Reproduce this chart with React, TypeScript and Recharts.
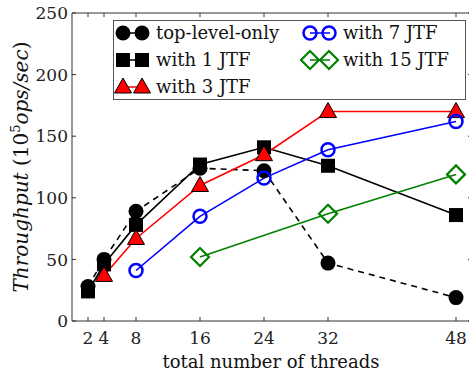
import { LineChart, Line, XAxis, YAxis, ReferenceLine } from 'recharts';

const threads = [2, 4, 8, 16, 24, 32, 48];
const topLevelOnly = [28, 50, 89, 124, 122, 47, 19];
const with1Jtf = [24, 46, 78, 127, 141, 126, 86];
const with3Jtf = [null, 37, 67, 110, 135, 170, 170];
const with7Jtf = [null, null, 41, 85, 116, 139, 162];
const with15Jtf = [null, null, null, 52, null, 87, 119];
const yTicks = [0, 50, 100, 150, 200, 250];

const data = threads.map((t, i) => ({
  t,
  top: topLevelOnly[i],
  j1: with1Jtf[i],
  j3: with3Jtf[i],
  j7: with7Jtf[i],
  j15: with15Jtf[i],
}));

// plot box (pixels)
const PL = 72;
const PR = 472;
const PT = 13;
const PB = 321;
const AXIS = '#333';
const FONT = '"DejaVu Serif", serif';

const BLUE = '#0000ff';
const GREEN = '#008000';
const RED = '#ff0000';

type Kind = 'circle' | 'square' | 'triangle' | 'ocircle' | 'diamond';

function Marker({ kind, cx, cy }: { kind: Kind; cx: number; cy: number }) {
  switch (kind) {
    case 'circle':
      return <circle cx={cx} cy={cy} r={7.5} fill="#000" />;
    case 'square':
      return <rect x={cx - 7} y={cy - 7} width={14} height={14} fill="#000" />;
    case 'triangle':
      return (
        <polygon
          points={`${cx},${cy - 9} ${cx - 8.5},${cy + 6} ${cx + 8.5},${cy + 6}`}
          fill={RED}
          stroke="#000"
          strokeWidth={1}
        />
      );
    case 'ocircle':
      return <circle cx={cx} cy={cy} r={6.5} fill="none" stroke={BLUE} strokeWidth={2.5} />;
    case 'diamond':
      return (
        <polygon
          points={`${cx},${cy - 9} ${cx + 9},${cy} ${cx},${cy + 9} ${cx - 9},${cy}`}
          fill="none"
          stroke={GREEN}
          strokeWidth={2.2}
        />
      );
  }
}

const dotOf = (kind: Kind) => (props: any) => {
  const { cx, cy, value, index } = props;
  if (value == null || cx == null || cy == null) return <g key={index} />;
  return (
    <g key={index}>
      <Marker kind={kind} cx={cx} cy={cy} />
    </g>
  );
};

const XTick = (props: any) => {
  const { x, payload } = props;
  return (
    <g>
      <line x1={x} x2={x} y1={PB} y2={PB - 4} stroke={AXIS} />
      <line x1={x} x2={x} y1={PT} y2={PT + 4} stroke={AXIS} />
      <text x={x} y={344} textAnchor="middle" fontFamily={FONT} fontSize={17} fill="#222">
        {payload.value}
      </text>
    </g>
  );
};

const YTick = (props: any) => {
  const { y, payload } = props;
  return (
    <g>
      <line x1={PL} x2={PL + 4} y1={y} y2={y} stroke={AXIS} />
      <line x1={PR} x2={PR - 4} y1={y} y2={y} stroke={AXIS} />
      <text x={68} y={y} dy="0.36em" textAnchor="end" fontFamily={FONT} fontSize={17} fill="#222">
        {payload.value}
      </text>
    </g>
  );
};

const legendItems: { label: string; kind: Kind; color: string; x: number; y: number }[] = [
  { label: 'top-level-only', kind: 'circle', color: '#000', x: 115, y: 33 },
  { label: 'with 1 JTF', kind: 'square', color: '#000', x: 115, y: 60 },
  { label: 'with 3 JTF', kind: 'triangle', color: RED, x: 115, y: 87 },
  { label: 'with 7 JTF', kind: 'ocircle', color: BLUE, x: 302, y: 33 },
  { label: 'with 15 JTF', kind: 'diamond', color: GREEN, x: 302, y: 60 },
];

function Overlay() {
  return (
    <svg
      width={469}
      height={377}
      style={{ position: 'absolute', left: 0, top: 0, pointerEvents: 'none' }}
    >
      <rect x={113.5} y={20.5} width={352} height={79} fill="#fff" stroke="#555" />
      {legendItems.map((it) => (
        <g key={it.label}>
          <line x1={it.x + 8} x2={it.x + 28} y1={it.y} y2={it.y} stroke={it.color} strokeWidth={1.5} />
          <Marker kind={it.kind} cx={it.x + 8} cy={it.y} />
          <Marker kind={it.kind} cx={it.x + 27} cy={it.y} />
          <text x={it.x + 41} y={it.y} dy="0.35em" fontFamily={FONT} fontSize={18} fill="#111">
            {it.label}
          </text>
        </g>
      ))}
      <text
        transform="translate(28,167) rotate(-90)"
        textAnchor="middle"
        fontFamily={FONT}
        fontSize={20}
        fill="#111"
      >
        <tspan fontStyle="italic">Throughput</tspan>
        <tspan> (10</tspan>
        <tspan fontSize={13} dy={-8}>5</tspan>
        <tspan fontStyle="italic" dy={8}>ops/sec</tspan>
        <tspan>)</tspan>
      </text>
      <text x={271} y={368} textAnchor="middle" fontFamily={FONT} fontSize={18} fill="#111">
        total number of threads
      </text>
    </svg>
  );
}

export default function App() {
  return (
    <div
      style={{
        position: 'absolute',
        left: 0,
        top: 0,
        width: 469,
        height: 377,
        overflow: 'hidden',
        background: '#fff',
      }}
    >
      <LineChart
        width={473}
        height={377}
        data={data}
        margin={{ top: PT, right: 1, bottom: 0, left: 0 }}
      >
        <XAxis
          dataKey="t"
          type="number"
          domain={[0, 50]}
          ticks={threads}
          interval={0}
          height={377 - PB}
          axisLine={{ stroke: AXIS }}
          tickLine={false}
          tick={<XTick />}
        />
        <YAxis
          type="number"
          domain={[0, 250]}
          ticks={yTicks}
          interval={0}
          width={PL}
          axisLine={{ stroke: AXIS }}
          tickLine={false}
          tick={<YTick />}
        />
        <ReferenceLine y={250} stroke={AXIS} />
        <ReferenceLine x={50} stroke={AXIS} />
        <Line
          dataKey="top"
          stroke="#000"
          strokeWidth={1.6}
          strokeDasharray="6 5"
          dot={dotOf('circle')}
          isAnimationActive={false}
        />
        <Line
          dataKey="j1"
          stroke="#000"
          strokeWidth={1.6}
          dot={dotOf('square')}
          isAnimationActive={false}
        />
        <Line
          dataKey="j3"
          stroke={RED}
          strokeWidth={1.6}
          dot={dotOf('triangle')}
          isAnimationActive={false}
        />
        <Line
          dataKey="j7"
          stroke={BLUE}
          strokeWidth={1.6}
          dot={dotOf('ocircle')}
          isAnimationActive={false}
        />
        <Line
          dataKey="j15"
          stroke={GREEN}
          strokeWidth={1.6}
          connectNulls
          dot={dotOf('diamond')}
          isAnimationActive={false}
        />
      </LineChart>
      <Overlay />
    </div>
  );
}
